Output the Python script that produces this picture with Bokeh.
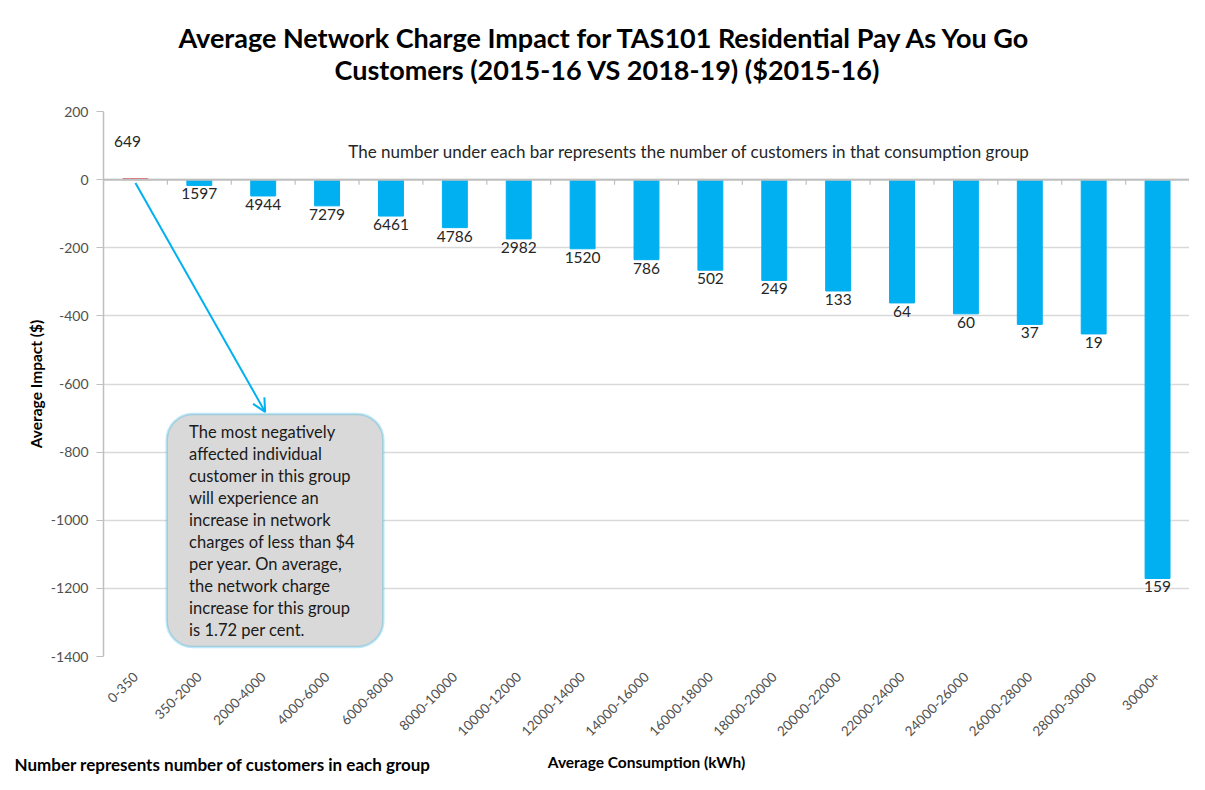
import math
from bokeh.plotting import figure
from bokeh.models import (Range1d, FixedTicker, Span, Label, LabelSet, BoxAnnotation,
                          Arrow, OpenHead, ColumnDataSource, Title)
from bokeh.core.properties import value
from bokeh.embed import file_html
from bokeh.resources import INLINE

# ---------------- data ----------------
categories = ["0-350", "350-2000", "2000-4000", "4000-6000", "6000-8000", "8000-10000",
              "10000-12000", "12000-14000", "14000-16000", "16000-18000", "18000-20000",
              "20000-22000", "22000-24000", "24000-26000", "26000-28000", "28000-30000", "30000+"]
impact = [3, -17, -48, -77, -107, -141, -174, -203, -235, -266, -296, -327, -362, -394, -425, -453, -1171]
customers = [649, 1597, 4944, 7279, 6461, 4786, 2982, 1520, 786, 502, 249, 133, 64, 60, 37, 19, 159]
y_ticks = [200, 0, -200, -400, -600, -800, -1000, -1200, -1400]

title_lines = ["Average Network Charge Impact for TAS101 Residential Pay As You Go",
               "Customers (2015-16 VS 2018-19) ($2015-16)"]
note_text = "The number under each bar represents the number of customers in that consumption group"
footer_text = "Number represents number of customers in each group"
x_title = "Average Consumption (kWh)"
y_title = "Average Impact ($)"
callout_lines = ["The most negatively", "affected individual", "customer in this group",
                 "will experience an", "increase in network", "charges of less than $4",
                 "per year.  On average,", "the network charge", "increase for this group",
                 "is 1.72 per cent."]

FONT = "Lato"
BLUE = "#00b0f0"
RED = "#d9666b"
TICK_COLOR = "#505050"

# ---------------- layout ----------------
W, H = 1189, 774
ML, MR, MT, MB = 103, 0, 111, 116
FW = W - ML - MR
FH = H - MT - MB

p = figure(width=W, height=H, output_backend="svg", toolbar_location=None,
           min_border_left=ML, min_border_right=MR, min_border_top=MT, min_border_bottom=MB,
           x_range=Range1d(-0.5, len(categories) - 0.5),
           y_range=Range1d(min(y_ticks), max(y_ticks)))
p.title_location = None
p.outline_line_color = None
p.background_fill_color = "white"
p.border_fill_color = "white"

# x axis
p.xaxis.ticker = FixedTicker(ticks=list(range(len(categories))))
p.xaxis.major_label_overrides = {i: c for i, c in enumerate(categories)}
p.xaxis.major_label_orientation = math.pi / 4
p.xaxis.axis_line_color = None
p.xaxis.major_tick_line_color = None
p.xaxis.minor_tick_line_color = None
p.xaxis.major_label_text_font = FONT
p.xaxis.major_label_text_font_size = "13.5px"
p.xaxis.major_label_text_color = TICK_COLOR
p.xaxis.major_label_standoff = 12
p.xaxis.axis_label = x_title
p.xaxis.axis_label_text_font = FONT
p.xaxis.axis_label_text_font_style = "bold"
p.xaxis.axis_label_text_font_size = "15.5px"
p.xaxis.axis_label_text_color = "#000000"
p.xaxis.axis_label_standoff = 10

# y axis
p.yaxis.ticker = FixedTicker(ticks=y_ticks)
p.yaxis.major_label_overrides = {t: str(t) for t in y_ticks}
p.yaxis.axis_line_color = "#bfbfbf"
p.yaxis.axis_line_width = 1.5
p.yaxis.major_tick_line_color = "#bfbfbf"
p.yaxis.major_tick_out = 7
p.yaxis.major_tick_in = 0
p.yaxis.minor_tick_line_color = None
p.yaxis.major_label_text_font = FONT
p.yaxis.major_label_text_font_size = "14px"
p.yaxis.major_label_text_color = TICK_COLOR
p.yaxis.major_label_standoff = 8
p.yaxis.axis_label = y_title
p.yaxis.axis_label_text_font = FONT
p.yaxis.axis_label_text_font_style = "bold"
p.yaxis.axis_label_text_font_size = "15.5px"
p.yaxis.axis_label_text_color = "#000000"
p.yaxis.axis_label_standoff = 3

p.xgrid.grid_line_color = None
p.ygrid.grid_line_color = "#d9d9d9"
p.ygrid.grid_line_width = 1.5

# titles (panel nearest the plot added first)
spacer = Title(text="\u2003", standoff=12, text_font=FONT, text_font_size="10px")
t2 = Title(text=title_lines[1], align="left", offset=231, standoff=0,
           text_font=FONT, text_font_style="bold", text_font_size="27px", text_color="#000000")
t1 = Title(text=title_lines[0], align="left", offset=75, standoff=-6,
           text_font=FONT, text_font_style="bold", text_font_size="27px", text_color="#000000")
p.add_layout(spacer, "above")
p.add_layout(t2, "above")
p.add_layout(t1, "above")

# footer note (bottom-left, on the same line as the x-axis title)
foot = Title(text=footer_text, align="left", offset=-89, standoff=-42, vertical_align="top",
             text_font=FONT, text_font_style="bold", text_font_size="17px", text_color="#000000")
p.add_layout(foot, "below")

# zero line & category tick marks
p.add_layout(Span(location=0, dimension="width", line_color="#bfbfbf", line_width=2))
bounds = [i - 0.5 for i in range(len(categories) + 1)]
p.segment(x0=bounds, x1=bounds, y0=[0] * len(bounds), y1=[-15] * len(bounds),
          line_color="#bfbfbf", line_width=1.2)

# bars
src = ColumnDataSource(dict(
    x=list(range(len(categories))),
    top=impact,
    color=[RED if v > 0 else BLUE for v in impact],
))
p.vbar(x="x", top="top", bottom=0, width=0.39, fill_color="color", line_color="color", source=src)

neg = ColumnDataSource(dict(
    x=[i for i, v in enumerate(impact) if v <= 0],
    y=[v for v in impact if v <= 0],
    t=[str(c) for c, v in zip(customers, impact) if v <= 0],
))
p.add_layout(LabelSet(x="x", y="y", text="t", source=neg, text_align="center",
                      text_baseline="top", y_offset=-3, text_font=value(FONT),
                      text_font_size=value("15.5px"), text_color=value("#262626")))
for i, v in enumerate(impact):
    if v > 0:
        p.add_layout(Label(x=i, y=v, text=str(customers[i]), text_align="center",
                           text_baseline="middle", y_offset=37, x_offset=-8, text_font=FONT,
                           text_font_size="15.5px", text_color="#262626"))

# note text inside plot
p.add_layout(Label(x=586, y=FH - 42, x_units="screen", y_units="screen",
                   text=note_text, text_align="center", text_baseline="middle",
                   text_font=FONT, text_font_size="17px", text_color="#262626"))

# callout arrow and box
p.add_layout(Arrow(end=OpenHead(size=13, line_color=BLUE, line_width=2),
                   x_start=0.0, y_start=-10, x_end=2.03, y_end=-682,
                   line_color=BLUE, line_width=2))
p.add_layout(BoxAnnotation(left=0.49, right=3.88, top=-688, bottom=-1372,
                           fill_color="#d9d9d9", fill_alpha=1.0,
                           line_color="#1fb0e6", line_width=2.5, border_radius=26))
for k, line in enumerate(callout_lines):
    p.add_layout(Label(x=0.84, y=-688, text=line, text_align="left", text_baseline="middle",
                       y_offset=-18 - 22 * k, text_font=FONT, text_font_size="16.5px",
                       text_color="#1a1a1a"))

open("out.html", "w").write(file_html(p, INLINE))
